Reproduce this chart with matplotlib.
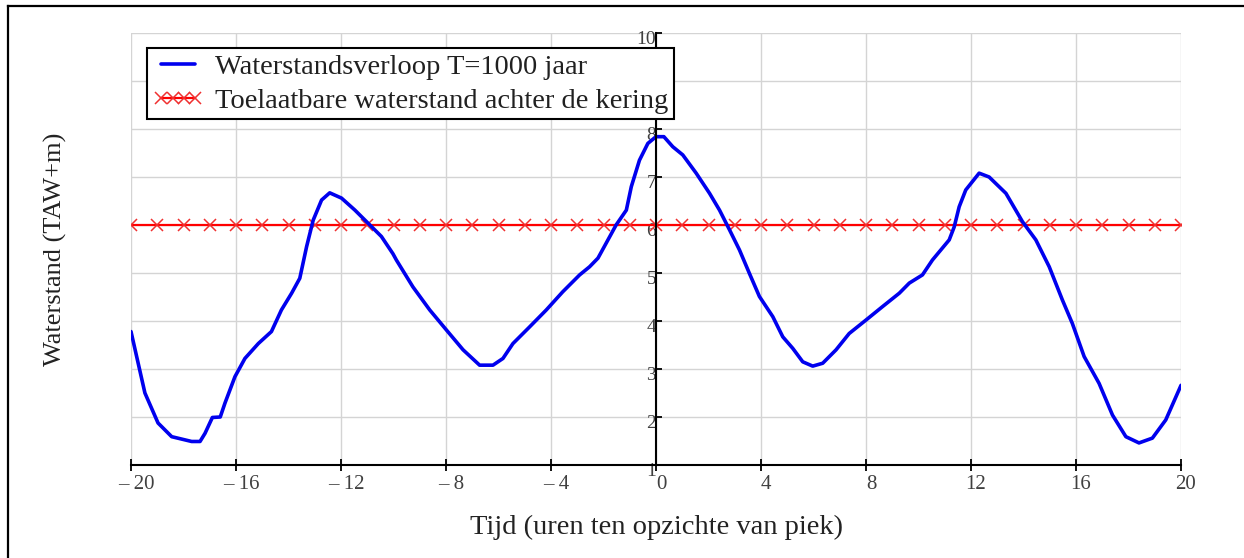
import matplotlib
matplotlib.use("Agg")
import matplotlib.pyplot as plt
import matplotlib.transforms as mtransforms
from matplotlib.lines import Line2D
import numpy as np

plt.rcParams['font.family'] = ['Liberation Serif', 'DejaVu Serif']

# ---- data ----
tijd = [-20.0, -19.47, -18.97, -18.45, -17.69, -17.37, -17.18, -16.9, -16.6, -16.42,
        -16.04, -15.66, -15.15, -14.65, -14.27, -13.88, -13.57, -13.31, -13.06, -12.74,
        -12.43, -11.98, -11.47, -10.9, -10.46, -10.02, -9.89, -9.26, -8.62, -7.98,
        -7.35, -6.72, -6.21, -5.83, -5.45, -4.81, -4.18, -3.55, -2.91, -2.53,
        -2.21, -1.9, -1.52, -1.13, -0.94, -0.63, -0.31, 0.0, 0.3, 0.64,
        1.02, 1.53, 2.04, 2.42, 2.8, 3.18, 3.56, 3.94, 4.45, 4.83,
        5.21, 5.59, 5.97, 6.35, 6.86, 7.36, 8.0, 8.63, 9.27, 9.65,
        10.15, 10.53, 11.17, 11.36, 11.55, 11.8, 12.31, 12.69, 13.33, 13.96,
        14.47, 14.98, 15.48, 15.86, 16.31, 16.88, 17.39, 17.9, 18.4, 18.91,
        19.42, 19.92, 20.0]
waterstand = [3.78, 2.5, 1.875, 1.59, 1.49, 1.49, 1.66, 1.99, 2.0, 2.29,
              2.84, 3.22, 3.53, 3.78, 4.23, 4.58, 4.89, 5.55, 6.1, 6.52,
              6.67, 6.56, 6.31, 6.0, 5.76, 5.4, 5.27, 4.71, 4.23, 3.81,
              3.4, 3.08, 3.08, 3.22, 3.53, 3.88, 4.23, 4.61, 4.96, 5.13,
              5.31, 5.62, 6.0, 6.31, 6.8, 7.35, 7.7, 7.84, 7.84, 7.63,
              7.46, 7.08, 6.66, 6.31, 5.9, 5.48, 4.99, 4.51, 4.09, 3.67,
              3.43, 3.15, 3.06, 3.12, 3.4, 3.74, 4.02, 4.3, 4.58, 4.79,
              4.96, 5.27, 5.69, 5.96, 6.38, 6.73, 7.08, 7.0, 6.66, 6.07,
              5.69, 5.13, 4.44, 3.95, 3.26, 2.7, 2.04, 1.59, 1.46, 1.56,
              1.94, 2.56, 2.66]
toelaatbaar_tijd = list(range(-20, 21))
toelaatbaar = [6.0] * len(toelaatbaar_tijd)

x_ticks = [-20, -16, -12, -8, -4, 0, 4, 8, 12, 16, 20]
x_ticklabels = ['\u2013 20', '\u2013 16', '\u2013 12', '\u2013 8', '\u2013 4', '0',
                '4', '8', '12', '16', '20']
y_ticks = [1, 2, 3, 4, 5, 6, 7, 8, 9, 10]
y_ticklabels = ['1', '2', '3', '4', '5', '6', '7', '8', '9', '10']

label_blue = 'Waterstandsverloop T=1000 jaar'
label_red = 'Toelaatbare waterstand achter de kering'
xlabel = 'Tijd (uren ten opzichte van piek)'
ylabel = 'Waterstand (TAW+m)'

# ---- figure ----
W, H = 1244, 558
fig = plt.figure(figsize=(W / 100, H / 100), dpi=100)
ax = fig.add_axes([131 / W, 1 - 465 / H, (1181 - 131) / W, (465 - 33) / H])

ax.plot(tijd, waterstand, color='#0000ee', lw=2.6, label=label_blue, zorder=4,
        solid_capstyle='round', solid_joinstyle='round')
ax.plot(toelaatbaar_tijd, toelaatbaar, color='#ff0000', lw=1.6, marker='x',
        markersize=8, markeredgewidth=1.1, markeredgecolor='#f03030',
        label=label_red, zorder=3)

ax.set_xlim(-20, 20)
ax.set_ylim(1, 10)

ax.set_xticks(x_ticks)
ax.set_xticklabels(x_ticklabels)
ax.set_yticks(y_ticks)
ax.set_yticklabels(y_ticklabels)

ax.grid(True, color='#d4d4d4', lw=1.0, zorder=0)
ax.set_axisbelow(True)

for s in ['top', 'right']:
    ax.spines[s].set_visible(False)
ax.spines['left'].set_position(('data', 0))
ax.spines['left'].set_linewidth(1.5)
ax.spines['bottom'].set_linewidth(1.5)
ax.spines['left'].set_zorder(5)

ax.tick_params(axis='x', direction='inout', length=8, width=1.3, pad=3,
               labelsize=15, labelcolor='#404040')
ax.tick_params(axis='y', direction='in', length=4, width=1.3, pad=0,
               labelsize=14, labelcolor='#404040')

off_x = mtransforms.ScaledTranslation(5 / 100, 0, fig.dpi_scale_trans)
for lab in ax.get_xticklabels():
    lab.set_transform(lab.get_transform() + off_x)
off_y = mtransforms.ScaledTranslation(0, -5 / 100, fig.dpi_scale_trans)
for lab in ax.get_yticklabels():
    lab.set_transform(lab.get_transform() + off_y)

fig.text(657 / W, 1 - 527 / H, xlabel, ha='center', va='center', fontsize=20.5,
         color='#222222')
fig.text(55 / W, 1 - 249 / H, ylabel, ha='center', va='center', rotation=90,
         fontsize=19, color='#222222')

leg = ax.legend(loc='upper left', bbox_to_anchor=((147 - 131) / (1181 - 131),
                                                  (465 - 48) / (465 - 33)),
                prop={'size': 20.5}, frameon=True, fancybox=False, framealpha=1,
                edgecolor='black', numpoints=4, handlelength=1.8,
                handletextpad=0.4, borderpad=0.2, borderaxespad=0,
                labelspacing=0.28)
leg.get_frame().set_linewidth(1.5)
leg.set_zorder(10)
for t in leg.get_texts():
    t.set_color('#202020')

# outer frame lines
fig.add_artist(Line2D([8 / W, 1.0], [1 - 6 / H, 1 - 6 / H], color='black', lw=1.6,
                      transform=fig.transFigure))
fig.add_artist(Line2D([8 / W, 8 / W], [1 - 6 / H, 0.0], color='black', lw=1.6,
                      transform=fig.transFigure))

fig.savefig('out.png', dpi=100)
